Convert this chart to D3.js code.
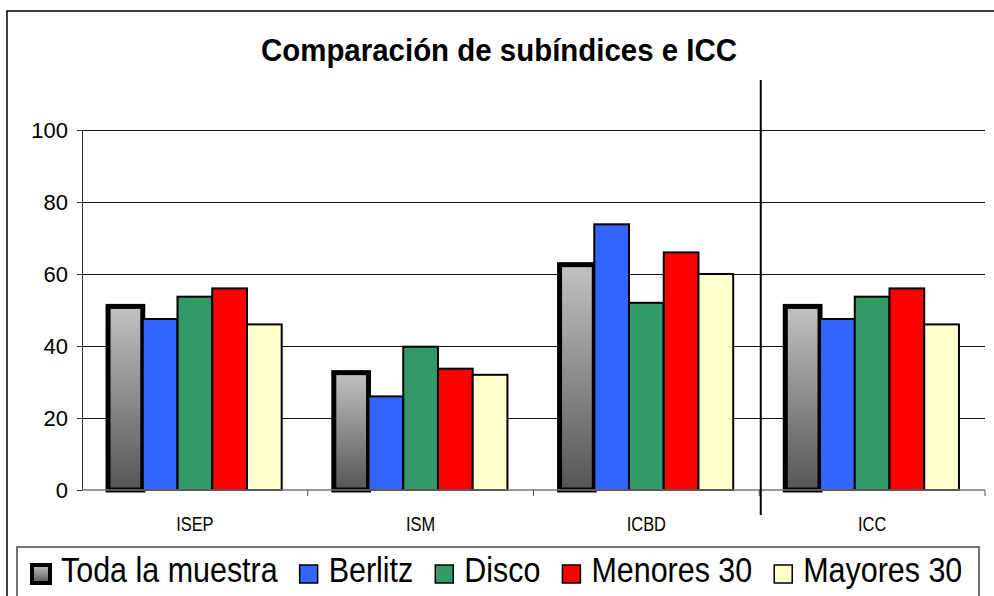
<!DOCTYPE html>
<html>
<head>
<meta charset="utf-8">
<script src="https://cdn.jsdelivr.net/npm/d3@7"></script>
<style>
  body { margin: 0; background: #fff; }
  svg { display: block; font-family: "Liberation Sans", Arial, sans-serif; }
</style>
</head>
<body>
<div id="chart"></div>
<script>
const width = 994;
const height = 596;

const categories = ["ISEP", "ISM", "ICBD", "ICC"];
const series = ["Toda la muestra", "Berlitz", "Disco", "Menores 30", "Mayores 30"];
const toda = [51, 32.6, 62.6, 51];
const berlitz = [47.5, 26, 73.8, 47.5];
const disco = [53.7, 39.8, 52, 53.7];
const menores = [56, 33.7, 66, 56];
const mayores = [46, 32, 60, 46];
const yTicks = [0, 20, 40, 60, 80, 100];

const colores = {
  "Toda la muestra": "url(#grisGrad)",
  "Berlitz": "#3366ff",
  "Disco": "#339966",
  "Menores 30": "#ff0000",
  "Mayores 30": "#ffffcc"
};

const valores = [toda, berlitz, disco, menores, mayores];
const datos = [];
categories.forEach((c, i) => {
  series.forEach((s, j) => datos.push({ cat: c, serie: s, valor: valores[j][i] }));
});

const svg = d3.select("#chart").append("svg").attr("width", width).attr("height", height);

const defs = svg.append("defs");
const grad = defs.append("linearGradient").attr("id", "grisGrad")
  .attr("x1", 0).attr("y1", 0).attr("x2", 0).attr("y2", 1);
grad.append("stop").attr("offset", "0%").attr("stop-color", "#c2c2c2");
grad.append("stop").attr("offset", "100%").attr("stop-color", "#555555");

// marco exterior
svg.append("rect").attr("x", 7).attr("y", 11).attr("width", 1010).attr("height", 620)
  .attr("fill", "#fff").attr("stroke", "#000").attr("stroke-width", 1.5);

// condensa el texto horizontalmente (el original se ve angosto)
function condensar(sel, f) {
  sel.each(function() {
    const w = this.getComputedTextLength() * f;
    this.__ancho = w;
    d3.select(this).attr("textLength", w).attr("lengthAdjust", "spacingAndGlyphs");
  });
}

svg.append("text").attr("x", 499).attr("y", 61).attr("text-anchor", "middle")
  .attr("font-size", 32).attr("font-weight", "bold")
  .text("Comparación de subíndices e ICC")
  .call(condensar, 0.92);

const x0 = d3.scaleBand().domain(categories).range([82, 985]);
const x1 = d3.scaleBand().domain(series).range([0, x0.bandwidth()]).paddingInner(0).paddingOuter(0.75);
const y = d3.scaleLinear().domain([0, 100]).range([490, 130]);

// lineas de grilla
svg.append("g")
  .attr("transform", "translate(82,0)")
  .call(d3.axisLeft(y).tickValues(yTicks.slice(1)).tickSize(-(985 - 82)).tickFormat(""))
  .call(g => g.select(".domain").remove())
  .call(g => g.selectAll("line").attr("stroke", "#111").attr("stroke-width", 1));

// eje y
svg.append("g")
  .attr("transform", "translate(82,0)")
  .call(d3.axisLeft(y).tickValues(yTicks).tickSize(5).tickPadding(9))
  .call(g => g.select(".domain").attr("stroke", "#333"))
  .call(g => g.selectAll("line").attr("stroke", "#333"))
  .call(g => g.selectAll("text").attr("font-size", 22).attr("fill", "#000")
    .attr("font-family", "Liberation Sans, Arial, sans-serif"));

// barras
svg.append("g").selectAll("rect")
  .data(datos)
  .join("rect")
  .attr("x", d => x0(d.cat) + x1(d.serie))
  .attr("y", d => y(d.valor))
  .attr("width", x1.bandwidth())
  .attr("height", d => y(0) - y(d.valor))
  .attr("fill", d => colores[d.serie])
  .attr("stroke", "#000")
  .attr("stroke-width", d => d.serie === "Toda la muestra" ? 5 : 2);

// eje x
svg.append("line").attr("x1", 82).attr("x2", 985).attr("y1", y(0)).attr("y2", y(0))
  .attr("stroke", "#777").attr("stroke-width", 1.5);
svg.append("g").selectAll("line")
  .data(categories.slice(1).concat(["fin"]))
  .join("line")
  .attr("x1", (d, i) => i < 3 ? x0(d) : 985)
  .attr("x2", (d, i) => i < 3 ? x0(d) : 985)
  .attr("y1", y(0)).attr("y2", y(0) + 6)
  .attr("stroke", "#555");

svg.append("g").selectAll("text")
  .data(categories)
  .join("text")
  .attr("x", d => x0(d) + x0.bandwidth() / 2)
  .attr("y", 531)
  .attr("text-anchor", "middle")
  .attr("font-size", 20)
  .text(d => d)
  .call(condensar, 0.82);

// linea divisoria antes de ICC
svg.append("line")
  .attr("x1", x0("ICC") + 1.5).attr("x2", x0("ICC") + 1.5)
  .attr("y1", 80).attr("y2", 515)
  .attr("stroke", "#000").attr("stroke-width", 2);

// leyenda
svg.append("rect").attr("x", 17).attr("y", 547).attr("width", 962).attr("height", 70)
  .attr("fill", "#fff").attr("stroke", "#444").attr("stroke-width", 1.5);

let lx = 32;
series.forEach(s => {
  const esToda = s === "Toda la muestra";
  svg.append("rect")
    .attr("x", lx).attr("y", 565).attr("width", 18).attr("height", 18)
    .attr("fill", colores[s]).attr("stroke", "#000").attr("stroke-width", esToda ? 4 : 1.5);
  const t = svg.append("text").attr("x", lx + 29).attr("y", 582)
    .attr("font-size", 35).text(s)
    .call(condensar, 0.87);
  lx += 29 + t.node().__ancho + 22;
});
</script>
</body>
</html>
